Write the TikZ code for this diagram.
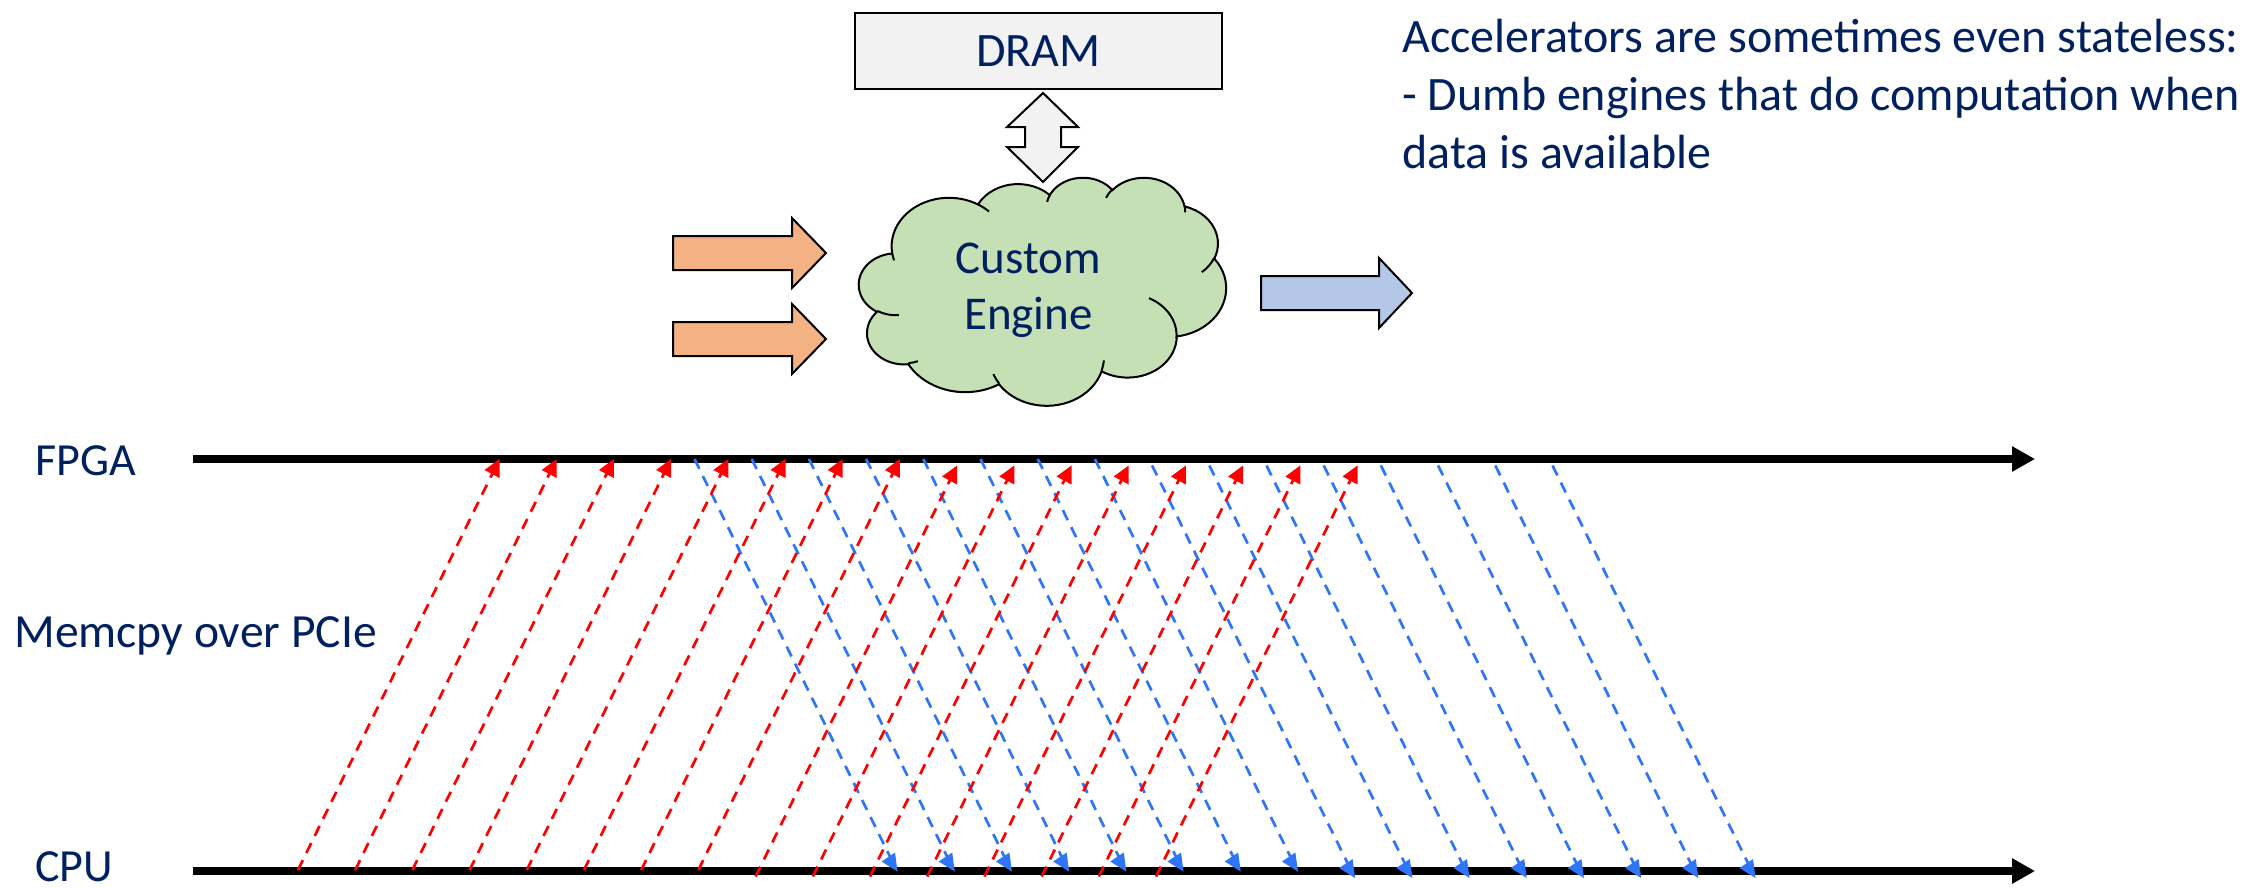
\documentclass[tikz,border=0pt]{standalone}
\usepackage{fontspec}
\setmainfont{Carlito}
\usetikzlibrary{arrows.meta}
\definecolor{navy}{HTML}{002060}
\definecolor{dramfill}{HTML}{F2F2F2}
\definecolor{cloudfill}{HTML}{C5E0B4}
\definecolor{orangefill}{HTML}{F4B183}
\definecolor{bluefill}{HTML}{B4C7E7}
\definecolor{dashblue}{RGB}{47,117,250}
\definecolor{dashred}{RGB}{255,0,0}
\pgfmathdeclarefunction{oopar}{3}{%
  \begingroup
  \pgfmathparse{atan2((#1)*sin(#3),(#2)*cos(#3))-(#3)}%
  \pgfmathparse{(#3)+\pgfmathresult-360*round(\pgfmathresult/360)}%
  \pgfmathsmuggle\pgfmathresult
  \endgroup}
\tikzset{
  ooarc/.style n args={4}{x radius=#1, y radius=#2, start angle={oopar(#1,#2,#3)}, end angle={oopar(#1,#2,#3+#4)}},
  lbl/.style={font=\fontsize{23}{29}\selectfont, text=navy, inner sep=0pt},
  biglbl/.style={lbl, font=\fontsize{24}{29}\selectfont},
  outline/.style={draw=black, line width=1pt, line join=miter},
  timeline/.style={line width=4pt, -{Triangle[length=11.5pt,width=12pt]}},
  reddash/.style={draw=dashred, line width=1.35pt, dash pattern=on 5.5pt off 4pt, shorten >=4pt},
  bluedash/.style={draw=dashblue, line width=1.35pt, dash pattern=on 5.5pt off 4pt, shorten >=4pt},
}
\begin{document}
\begin{tikzpicture}[x=0.5pt,y=-0.5pt]
\useasboundingbox (0,0) rectangle (2246,888);

% DRAM box
\node[outline, fill=dramfill, biglbl, minimum width=183.5pt, minimum height=38pt] (dram) at (1038.5,51) {DRAM};

% double arrow
\filldraw[outline, fill=dramfill] (1043,93) -- (1078,127) -- (1061,127) -- (1061,147) -- (1078,147)
  -- (1043,182) -- (1007,147) -- (1025,147) -- (1025,127) -- (1007,127) -- cycle;

% cloud (PowerPoint cloud geometry)
\begin{scope}[shift={(859,177)}, x=0.42477pt, y=-0.26389pt]
\filldraw[outline, fill=cloudfill] (39.00,143.70)
  arc[ooarc={67.53}{91.90}{-190.4875}{123.7805}]
  arc[ooarc={53.33}{72.67}{-144.1024}{89.9452}]
  arc[ooarc={43.65}{59.45}{-145.8079}{99.7230}]
  arc[ooarc={48.57}{65.95}{-130.9861}{117.2417}]
  arc[ooarc={53.33}{72.73}{-78.7089}{109.0269}]
  arc[ooarc={67.75}{92.20}{-46.2673}{130.2690}]
  arc[ooarc={57.85}{78.67}{0.6250}{114.0333}]
  arc[ooarc={67.52}{92.15}{22.4516}{115.1726}]
  arc[ooarc={77.20}{105.43}{66.2426}{75.7110}]
  arc[ooarc={43.60}{59.18}{-274.9421}{146.7356}]
  arc[ooarc={43.45}{59.45}{-246.8285}{152.5189}]
  -- cycle;
\draw[outline]
  (46.93,261.77) arc[ooarc={43.45}{59.45}{86.742}{26.4295}]
  (69.28,348.99) arc[ooarc={43.60}{59.18}{73.6105}{11.4475}]
  (164.78,390.90) arc[ooarc={67.52}{92.15}{137.6242}{14.0811}]
  (288.27,347.51) arc[ooarc={67.52}{92.15}{6.4533}{15.9984}]
  (341.29,229.54) arc[ooarc={57.85}{78.67}{-70.2924}{75.9149}]
  (417.98,153.54) arc[ooarc={53.33}{72.73}{30.3180}{27.7515}]
  (383.24,54.26) arc[ooarc={48.57}{65.95}{-13.7443}{14.8589}]
  (290.78,39.52) arc[ooarc={48.57}{65.95}{-149.1815}{18.1954}]
  (221.41,47.20) arc[ooarc={43.65}{59.45}{-163.4943}{17.6864}]
  (140.00,51.92) arc[ooarc={67.53}{91.90}{-66.7070}{12.3194}]
  (41.27,157.89) arc[ooarc={67.53}{91.90}{157.6544}{11.8582}];
\end{scope}
\node[lbl, align=center, anchor=north, font=\fontsize{23.5}{28}\selectfont] (eng) at (1028.5,243) {Custom\\Engine};

% input / output block arrows
\filldraw[outline, fill=orangefill] (673,236) -- (792,236) -- (792,218) -- (826,253) -- (792,288) -- (792,270) -- (673,270) -- cycle;
\filldraw[outline, fill=orangefill] (673,322) -- (792,322) -- (792,304) -- (826,339) -- (792,374) -- (792,356) -- (673,356) -- cycle;
\filldraw[outline, fill=bluefill] (1261,276) -- (1379,276) -- (1379,258) -- (1412,293) -- (1379,328) -- (1379,310) -- (1261,310) -- cycle;

% right text
\node[biglbl, align=left, anchor=north west] (acc) at (1402,19) {Accelerators are sometimes even stateless:\\- Dumb engines that do computation when\\data is available};

% timeline labels
\node[lbl, anchor=base west] (fpga) at (35,475) {FPGA};
\node[lbl, anchor=base west] (cpu) at (35,881) {CPU};
\node[lbl, anchor=base west, font=\fontsize{23.8}{29}\selectfont] (memcpy) at (14,647) {Memcpy over PCIe};

% timelines
\coordinate (fpgaS) at (193,459);
\coordinate (fpgaE) at (2035,459);
\coordinate (cpuS) at (193,871);
\coordinate (cpuE) at (2035,871);
\draw[timeline] (fpgaS) -- (fpgaE);
\draw[timeline] (cpuS) -- (cpuE);

% transfers
\foreach \k in {0,...,15}{
  \pgfmathsetmacro\off{\k<8 ? 0 : 6.5}
  \pgfmathsetmacro\dx{57.2*\k}
  \coordinate (rs\k) at (298+\dx, 870+\off);
  \coordinate (re\k) at (499+\dx, 460+\off);
  \coordinate (bs\k) at (694.5+\dx, 459+\off);
  \coordinate (be\k) at (897+\dx, 871+\off);
  \draw[reddash] (rs\k) -- (re\k);
  \fill[dashred] (re\k) ++(0.5,-1) -- ++(0,19) -- ++(-15,-8) -- cycle;
  \draw[bluedash] (bs\k) -- (be\k);
  \fill[dashblue] (be\k) ++(0.5,0.5) -- ++(-2.5,-19) -- ++(-13.5,9) -- cycle;
}
\end{tikzpicture}
\end{document}
